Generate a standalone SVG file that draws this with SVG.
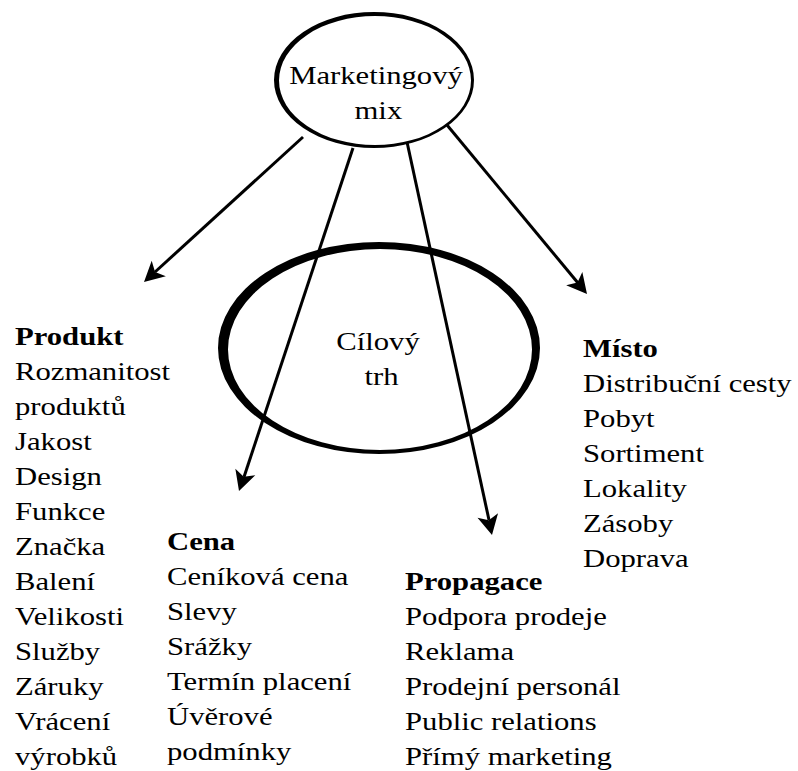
<svg xmlns="http://www.w3.org/2000/svg" width="798" height="771" viewBox="0 0 798 771">
  <style>
    .t { font-family: "Liberation Serif", Tinos, "DejaVu Serif", serif; font-size: 26px; fill: #000; }
    .b { font-weight: bold; }
    .conn { stroke: #000; stroke-width: 3; fill: none; }
  </style>
  <defs>
    <!-- barbed arrowhead, tip at origin, pointing along +x -->
    <path id="ah" d="M0,0 L-20,-10.5 L-15,0 L-20,10.5 Z" fill="#000"/>
  </defs>
  <rect width="798" height="771" fill="#fff"/>

  <!-- connectors -->
  <g id="connectors">
    <line class="conn" x1="303" y1="137" x2="155" y2="272"/>
    <use href="#ah" transform="translate(144,282) rotate(137.6)"/>
    <line class="conn" x1="353" y1="148" x2="244" y2="477"/>
    <use href="#ah" transform="translate(239,491) rotate(108.4)"/>
    <line class="conn" x1="407" y1="142" x2="489" y2="520"/>
    <use href="#ah" transform="translate(492,535) rotate(77.8)"/>
    <line class="conn" x1="447" y1="125" x2="578" y2="283"/>
    <use href="#ah" transform="translate(587,294) rotate(50.4)"/>
  </g>

  <!-- central node: target market (ring with uneven thickness) -->
  <g id="cilovy-trh">
    <path fill="#000" fill-rule="evenodd" d="M218,348 A161,106 0 1,0 540,348 A161,106 0 1,0 218,348 Z M228,349.5 A152,100.5 0 1,0 532,349.5 A152,100.5 0 1,0 228,349.5 Z"/>
    <g transform="translate(378,0) scale(1.18,1)">
      <text class="t" x="0" y="350" text-anchor="middle">Cílový</text>
      <text class="t" x="3" y="385" text-anchor="middle">trh</text>
    </g>
  </g>

  <!-- top node: marketing mix -->
  <g id="marketingovy-mix">
    <path fill="#000" fill-rule="evenodd" d="M274,80 A100,68 0 1,0 474,80 A100,68 0 1,0 274,80 Z M279,80.5 A96,64.5 0 1,0 471,80.5 A96,64.5 0 1,0 279,80.5 Z"/>
    <g transform="translate(376,0) scale(1.18,1)">
      <text class="t" x="0" y="84" text-anchor="middle">Marketingový</text>
      <text class="t" x="2" y="119" text-anchor="middle">mix</text>
    </g>
  </g>

  <!-- product -->
  <g id="produkt" transform="translate(15,0) scale(1.18,1)">
    <text class="t b" x="0" y="345">Produkt</text>
    <text class="t" x="0" y="380">Rozmanitost</text>
    <text class="t" x="0" y="415">produktů</text>
    <text class="t" x="0" y="450">Jakost</text>
    <text class="t" x="0" y="485">Design</text>
    <text class="t" x="0" y="520">Funkce</text>
    <text class="t" x="0" y="555">Značka</text>
    <text class="t" x="0" y="590">Balení</text>
    <text class="t" x="0" y="625">Velikosti</text>
    <text class="t" x="0" y="660">Služby</text>
    <text class="t" x="0" y="695">Záruky</text>
    <text class="t" x="0" y="730">Vrácení</text>
    <text class="t" x="0" y="765">výrobků</text>
  </g>

  <!-- price -->
  <g id="cena" transform="translate(167,0) scale(1.18,1)">
    <text class="t b" x="0" y="550">Cena</text>
    <text class="t" x="0" y="585">Ceníková cena</text>
    <text class="t" x="0" y="620">Slevy</text>
    <text class="t" x="0" y="655">Srážky</text>
    <text class="t" x="0" y="690">Termín placení</text>
    <text class="t" x="0" y="725">Úvěrové</text>
    <text class="t" x="0" y="760">podmínky</text>
  </g>

  <!-- promotion -->
  <g id="propagace" transform="translate(405,0) scale(1.18,1)">
    <text class="t b" x="0" y="590">Propagace</text>
    <text class="t" x="0" y="625">Podpora prodeje</text>
    <text class="t" x="0" y="660">Reklama</text>
    <text class="t" x="0" y="695">Prodejní personál</text>
    <text class="t" x="0" y="730">Public relations</text>
    <text class="t" x="0" y="765">Přímý marketing</text>
  </g>

  <!-- place -->
  <g id="misto" transform="translate(583,0) scale(1.18,1)">
    <text class="t b" x="0" y="357">Místo</text>
    <text class="t" x="0" y="392">Distribuční cesty</text>
    <text class="t" x="0" y="427">Pobyt</text>
    <text class="t" x="0" y="462">Sortiment</text>
    <text class="t" x="0" y="497">Lokality</text>
    <text class="t" x="0" y="532">Zásoby</text>
    <text class="t" x="0" y="567">Doprava</text>
  </g>
</svg>
